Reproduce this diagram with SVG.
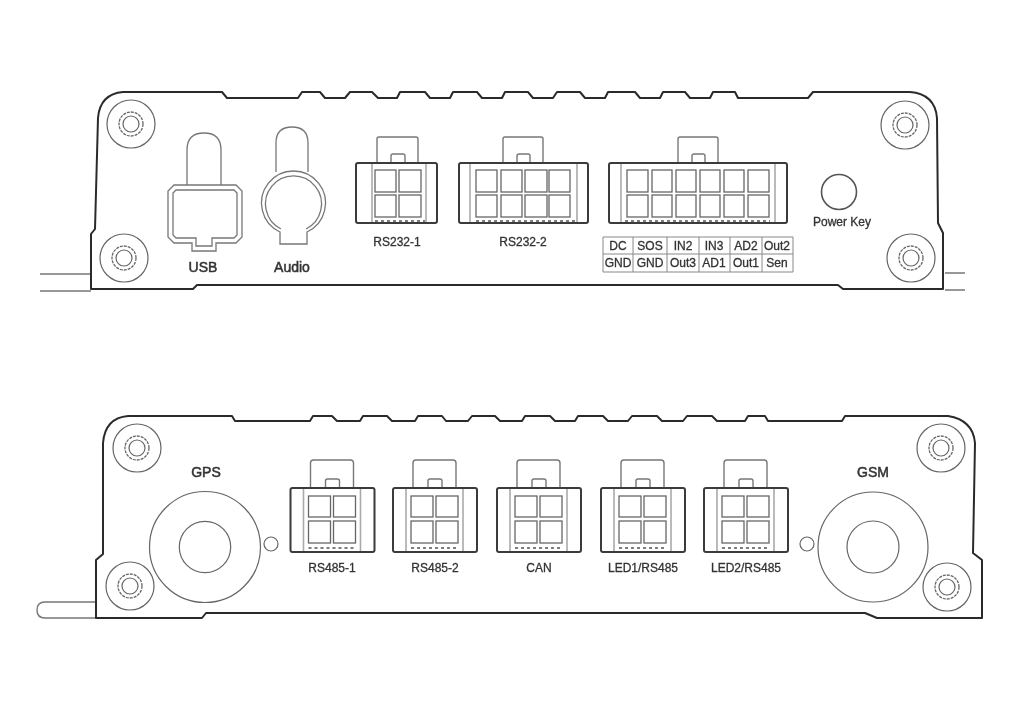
<svg xmlns="http://www.w3.org/2000/svg" width="1024" height="711" viewBox="0 0 1024 711">
<style>
.body{fill:none;stroke:#2b2b2b;stroke-width:2;stroke-linejoin:round}
.wire{fill:none;stroke:#777;stroke-width:1.4}
.ring{fill:none;stroke:#666;stroke-width:1.2}
.dash{fill:none;stroke:#666;stroke-width:1.3;stroke-dasharray:3 1}
.shell{fill:none;stroke:#3a3a3a;stroke-width:2}
.tab{fill:none;stroke:#777;stroke-width:1.4}
.div{fill:none;stroke:#aaa;stroke-width:1.6}
.cell{fill:#fff;stroke:#666;stroke-width:1.3}
.foot{fill:none;stroke:#555;stroke-width:1.6;stroke-dasharray:3 3}
.port{fill:none;stroke:#777;stroke-width:1.3}
.grid{fill:none;stroke:#888;stroke-width:1}
text{font-family:"Liberation Sans","DejaVu Sans",sans-serif;fill:#333;stroke:#333;stroke-width:.3;text-anchor:middle;dominant-baseline:central}
.lg{font-size:14px;stroke-width:.5}
.sm{font-size:12px}
.tb{font-size:12px}
</style>
<defs>
<filter id="soft" filterUnits="userSpaceOnUse" x="0" y="0" width="1024" height="711"><feGaussianBlur stdDeviation="0.4"/></filter>
<g id="screw">
<circle class="ring" r="24"/>
<circle class="dash" r="12"/>
<circle class="ring" r="8"/>
</g>
<g id="conn4">
<path class="tab" d="M20 0V-25Q20 -28 23 -28H60Q63 -28 63 -25V0"/>
<path class="tab" d="M35 0V-7Q35 -9 37 -9H47Q49 -9 49 -7V0"/>
<path class="div" d="M13 1V63M70 1V63"/>
<rect class="shell" x="0" y="0" width="84" height="64" rx="2"/>
<rect class="cell" x="18" y="8" width="22" height="21"/>
<rect class="cell" x="43" y="8" width="22" height="21"/>
<rect class="cell" x="18" y="33" width="22" height="22"/>
<rect class="cell" x="43" y="33" width="22" height="22"/>
<path class="foot" d="M18 60H66"/>
</g>
</defs>
<g filter="url(#soft)">
<g id="connectors">
<path class="wire" d="M40 274H91M40 291H91"/>
<path class="wire" d="M945 273H965M945 290H965"/>
<path class="wire" d="M96 602H45Q37 602 37 610Q37 618 45 618H96"/>
</g>
<g id="top-panel">
<path class="body" d="M91 289V234L95 229L98 118Q100 94 123 92H222L227 98H298L302 92H320L325 98H345L350 92H372L378 98H397L400 92H425L430 98H450L453 92H477L482 98H502L505 92H528L533 98H553L557 92H580L585 98H605L608 92H635L640 98H660L663 92H685L690 98H710L713 92H735L738 98H808L813 92H910Q935 94 937 118L938 223L943 233V289H843L838 285H197L193 289Z"/>
</g>
<g id="top-screws">
<use href="#screw" x="131" y="124"/>
<use href="#screw" x="124" y="258"/>
<use href="#screw" x="905" y="125"/>
<use href="#screw" x="911" y="258"/>
</g>
<g id="usb">
<path class="port" d="M187 185V150Q187 133 204 133Q221 133 221 150V185"/>
<path class="port" d="M174 185H236L242 191V237L236 243H216V251H192V243H174L168 237V191Z"/>
<path class="port" d="M176 190H234L237 193V235L234 238H212V246H196V238H176L173 235V193Z"/>
<text class="lg" x="203" y="267">USB</text>
</g>
<g id="audio">
<path class="port" d="M276 172V143Q276 127 292 127Q308 127 308 143V172"/>
<path class="port" d="M280 232A32 32 0 1 1 307 232V244H280Z"/>
<path class="port" d="M281 229A28 28 0 1 1 306 229"/>
<text class="lg" x="292" y="267">Audio</text>
</g>
<g id="rs232-1">
<path class="tab" d="M377 163V139Q377 137 379 137H416Q418 137 418 139V163"/>
<path class="tab" d="M391 163V156Q391 154 393 154H403Q405 154 405 156V163"/>
<path class="div" d="M372 164V222M426 164V222"/>
<rect class="shell" x="356" y="163" width="81" height="60" rx="2"/>
<rect class="cell" x="375" y="170" width="21" height="22"/>
<rect class="cell" x="399" y="170" width="22" height="22"/>
<rect class="cell" x="375" y="195" width="21" height="22"/>
<rect class="cell" x="399" y="195" width="22" height="22"/>
<path class="foot" d="M375 221H425"/>
<text class="sm" x="397" y="242">RS232-1</text>
</g>
<g id="rs232-2">
<path class="tab" d="M503 163V139Q503 137 505 137H541Q543 137 543 139V163"/>
<path class="tab" d="M517 163V156Q517 154 519 154H528Q530 154 530 156V163"/>
<path class="div" d="M470 164V222M577 164V222"/>
<rect class="shell" x="459" y="163" width="129" height="60" rx="2"/>
<rect class="cell" x="476" y="170" width="21" height="22"/>
<rect class="cell" x="501" y="170" width="21" height="22"/>
<rect class="cell" x="525" y="170" width="22" height="22"/>
<rect class="cell" x="549" y="170" width="21" height="22"/>
<rect class="cell" x="476" y="195" width="21" height="22"/>
<rect class="cell" x="501" y="195" width="21" height="22"/>
<rect class="cell" x="525" y="195" width="22" height="22"/>
<rect class="cell" x="549" y="195" width="21" height="22"/>
<path class="foot" d="M476 221H575"/>
<text class="sm" x="523" y="242">RS232-2</text>
</g>
<g id="power-connector">
<path class="tab" d="M678 163V139Q678 137 680 137H716Q718 137 718 139V163"/>
<path class="tab" d="M692 163V156Q692 154 694 154H703Q705 154 705 156V163"/>
<path class="div" d="M621 164V222M775 164V222"/>
<rect class="shell" x="609" y="163" width="178" height="60" rx="2"/>
<rect class="cell" x="627" y="170" width="21" height="22"/>
<rect class="cell" x="652" y="170" width="20" height="22"/>
<rect class="cell" x="676" y="170" width="20" height="22"/>
<rect class="cell" x="700" y="170" width="20" height="22"/>
<rect class="cell" x="724" y="170" width="20" height="22"/>
<rect class="cell" x="748" y="170" width="21" height="22"/>
<rect class="cell" x="627" y="195" width="21" height="22"/>
<rect class="cell" x="652" y="195" width="20" height="22"/>
<rect class="cell" x="676" y="195" width="20" height="22"/>
<rect class="cell" x="700" y="195" width="20" height="22"/>
<rect class="cell" x="724" y="195" width="20" height="22"/>
<rect class="cell" x="748" y="195" width="21" height="22"/>
<path class="foot" d="M625 221H770"/>
</g>
<g id="pin-table">
<path class="grid" d="M603 237H793V272H603ZM603 254H793M633 237V272M667 237V272M699 237V272M730 237V272M762 237V272"/>
<text class="tb" x="618" y="246">DC</text>
<text class="tb" x="650" y="246">SOS</text>
<text class="tb" x="683" y="246">IN2</text>
<text class="tb" x="714" y="246">IN3</text>
<text class="tb" x="746" y="246">AD2</text>
<text class="tb" x="777" y="246">Out2</text>
<text class="tb" x="618" y="263">GND</text>
<text class="tb" x="650" y="263">GND</text>
<text class="tb" x="683" y="263">Out3</text>
<text class="tb" x="714" y="263">AD1</text>
<text class="tb" x="746" y="263">Out1</text>
<text class="tb" x="777" y="263">Sen</text>
</g>
<g id="power-key">
<circle cx="839" cy="192" r="17.500" fill="none" stroke="#555" stroke-width="1.6"/>
<text class="sm" x="842" y="222">Power Key</text>
</g>
<g id="bottom-panel">
<path class="body" d="M96 618V560L103 554V443Q105 418 128 416H232L235 421H310L313 416H332L337 421H360L363 416H387L392 421H415L418 416H442L446 421H468L472 416H495L500 421H522L525 416H550L555 421H575L578 416H603L608 421H628L632 416H657L662 421H683L687 416H712L717 421H745L748 416H765L768 421H842L845 416H948Q973 420 975 443L973 553L982 560V618H877L865 613H206L202 618Z"/>
</g>
<g id="bottom-screws">
<use href="#screw" x="137" y="448"/>
<use href="#screw" x="130" y="586"/>
<use href="#screw" x="941" y="448"/>
<use href="#screw" x="947" y="587"/>
</g>
<g id="gps">
<circle class="ring" cx="205" cy="547" r="55.500"/>
<circle class="ring" cx="205" cy="547" r="25.700"/>
<circle class="ring" cx="271" cy="544" r="7"/>
<text class="lg" x="206" y="472">GPS</text>
</g>
<g id="gsm">
<circle class="ring" cx="873" cy="547" r="55"/>
<circle class="ring" cx="873" cy="547" r="26"/>
<circle class="ring" cx="807" cy="544" r="7"/>
<text class="lg" x="873" y="472">GSM</text>
</g>
<g id="rs485-1">
<use href="#conn4" x="290.500" y="488"/>
<text class="sm" x="332" y="568">RS485-1</text>
</g>
<g id="rs485-2">
<use href="#conn4" x="393" y="488"/>
<text class="sm" x="435" y="568">RS485-2</text>
</g>
<g id="can">
<use href="#conn4" x="497" y="488"/>
<text class="sm" x="539" y="568">CAN</text>
</g>
<g id="led1-rs485">
<use href="#conn4" x="601" y="488"/>
<text class="sm" x="643" y="568">LED1/RS485</text>
</g>
<g id="led2-rs485">
<use href="#conn4" x="704" y="488"/>
<text class="sm" x="746" y="568">LED2/RS485</text>
</g>
</g>
</svg>
